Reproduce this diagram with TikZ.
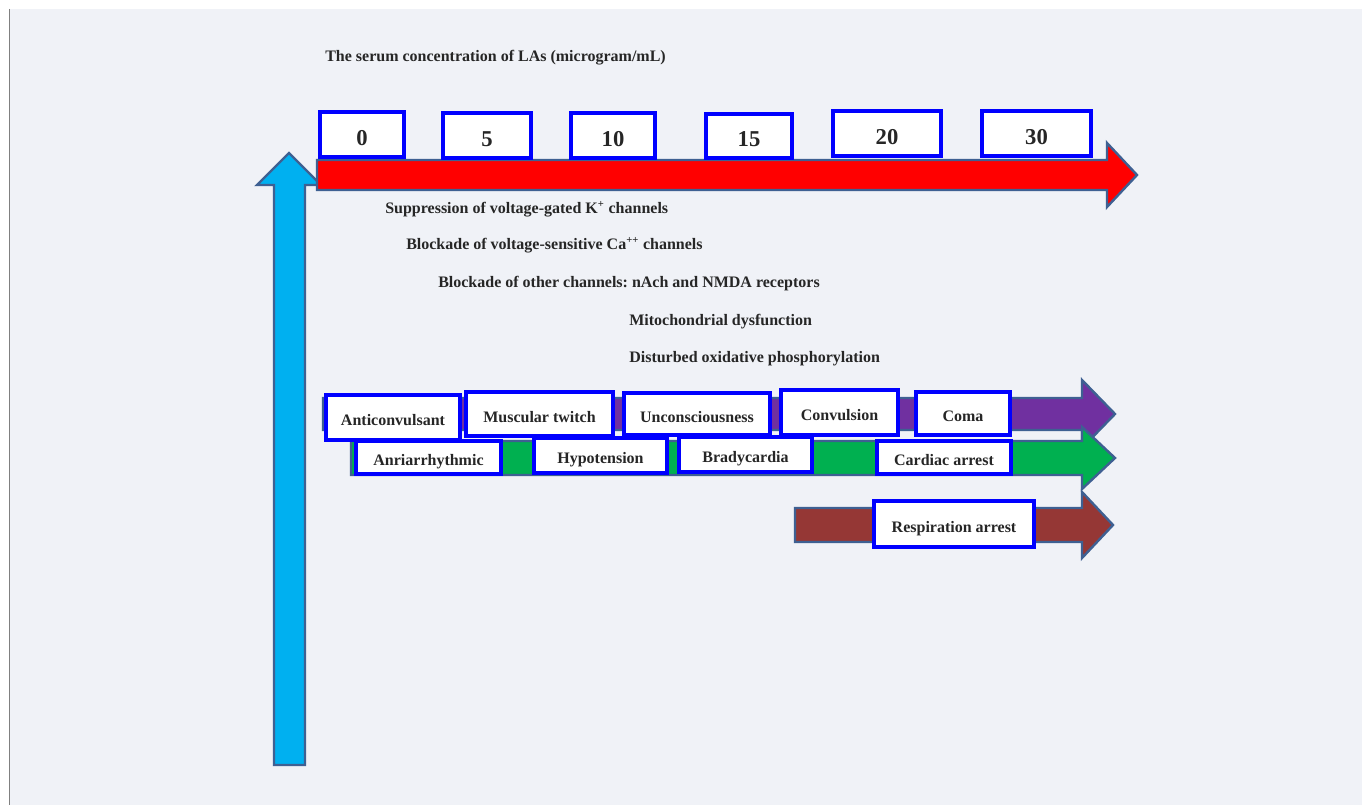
\documentclass[tikz,border=0pt]{standalone}
\usepackage{fontspec}
\setmainfont{Liberation Serif}
\definecolor{bgc}{RGB}{240,242,247}
\definecolor{edgec}{RGB}{62,96,146}
\definecolor{skyc}{RGB}{0,176,240}
\definecolor{purc}{RGB}{112,48,160}
\definecolor{grnc}{RGB}{0,176,80}
\definecolor{brnc}{RGB}{149,55,53}
\definecolor{boxb}{RGB}{0,0,255}
\definecolor{txtc}{RGB}{38,38,38}
\tikzset{
  bigarrow/.style={draw=edgec,line width=1.8pt,line join=miter},
  lbox/.style={draw=boxb,fill=white,line width=2.4pt,inner sep=0pt,text=txtc,text height=14pt,text depth=2pt,font=\fontsize{12}{14}\selectfont\bfseries},
  numbox/.style={lbox,text height=18pt,text depth=2pt,font=\fontsize{17}{19}\selectfont\bfseries},
  ltext/.style={anchor=west,inner sep=0pt,text=txtc,font=\fontsize{12}{14}\selectfont\bfseries}
}
\newcommand\bnode[7][lbox]{\node[#1,minimum width={(#5-#3)*0.75pt},minimum height={(#6-#4)*0.75pt}] (#2) at ({(#3+#5)/2},{(#4+#6)/2}) {#7};}
\begin{document}
\frenchspacing
\begin{tikzpicture}[x=0.75pt,y=-0.75pt]
\useasboundingbox (0,0) rectangle (1362,805);
\fill[white] (0,0) rectangle (1362,805);
\fill[bgc] (10,9) rectangle (1362,805);
\draw[gray,line width=0.8pt] (9.5,9) -- (9.5,805);
% blue vertical arrow
\draw[bigarrow,fill=skyc] (274,765) -- (274,185) -- (257,185) -- (289,153) -- (321,185) -- (305,185) -- (305,765) -- cycle;
% red horizontal arrow
\draw[bigarrow,fill=red] (317,160) -- (1107,160) -- (1107,143) -- (1137,175) -- (1107,207) -- (1107,190) -- (317,190) -- cycle;
% number boxes
\bnode[numbox]{n0}{320}{112}{404}{157}{0}
\bnode[numbox]{n5}{443}{113}{531}{158}{5}
\bnode[numbox]{n10}{571}{113}{655}{158}{10}
\bnode[numbox]{n15}{706}{114}{792}{158}{15}
\bnode[numbox]{n20}{833}{111}{941}{156}{20}
\bnode[numbox]{n30}{982}{111}{1091}{156}{30}
% texts
\node[ltext] (title) at (325,58) {The serum concentration of LAs (microgram/mL)};
\node[ltext] (t1) at (385,209) {Suppression of voltage-gated K\textsuperscript{+} channels};
\node[ltext] (t2) at (406,245) {Blockade of voltage-sensitive Ca\textsuperscript{++} channels};
\node[ltext] (t3) at (438,284) {Blockade of other channels: nAch and NMDA receptors};
\node[ltext] (t4) at (629,322) {Mitochondrial dysfunction};
\node[ltext] (t5) at (629,359) {Disturbed oxidative phosphorylation};
% purple arrow
\draw[bigarrow,fill=purc] (323,398) -- (1082,398) -- (1082,380) -- (1115,414) -- (1082,448) -- (1082,430) -- (323,430) -- cycle;
% green arrow
\draw[bigarrow,fill=grnc] (351,441) -- (1082,441) -- (1082,427) -- (1115,458) -- (1082,489) -- (1082,475) -- (351,475) -- cycle;
% brown arrow
\draw[bigarrow,fill=brnc] (795,508) -- (1082,508) -- (1082,492) -- (1113,525) -- (1082,558) -- (1082,542) -- (795,542) -- cycle;
% row 1 boxes
\bnode{b1}{326}{395}{460}{440}{Anticonvulsant}
\bnode{b2}{466}{392}{613}{436}{Muscular twitch}
\bnode{b3}{624}{393}{770}{435}{Unconsciousness}
\bnode{b4}{781}{390}{898}{435}{Convulsion}
\bnode{b5}{916}{392}{1010}{435}{Coma}
% row 2 boxes
\bnode{c1}{356}{441}{501}{474}{Anriarrhythmic}
\bnode{c2}{534}{438}{667}{473}{Hypotension}
\bnode{c3}{679}{437}{812}{472}{Bradycardia}
\bnode{c4}{877}{441}{1011}{474}{Cardiac arrest}
% respiration
\bnode{d1}{874}{501}{1034}{547}{Respiration arrest}
\end{tikzpicture}
\end{document}
